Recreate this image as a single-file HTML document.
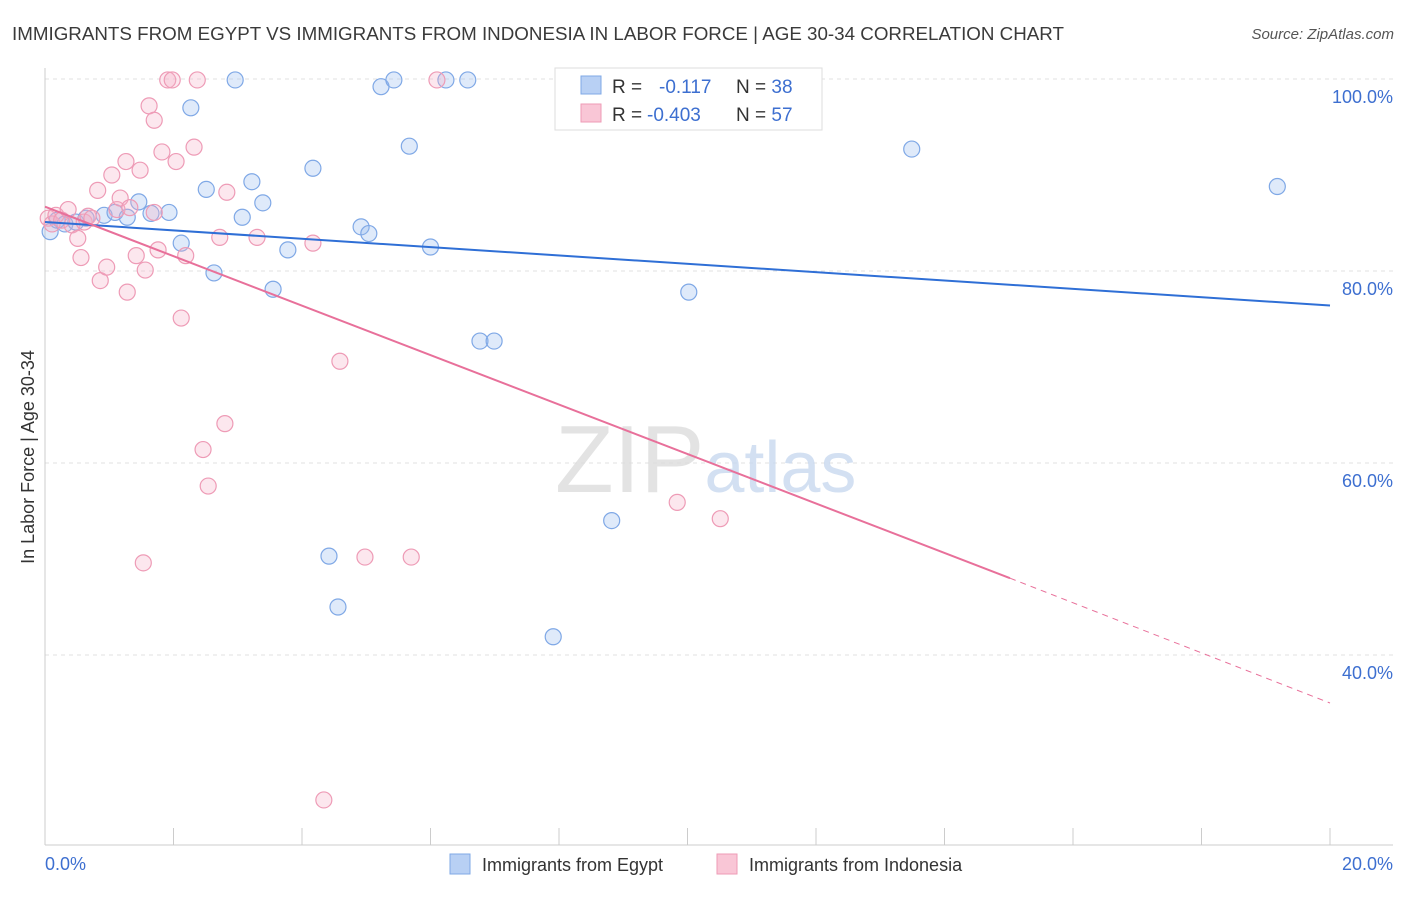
<!DOCTYPE html>
<html><head><meta charset="utf-8"><style>
body{margin:0;background:#fff;font-family:"Liberation Sans",sans-serif}
svg text{font-family:"Liberation Sans",sans-serif}
</style></head><body>
<svg id="chart" width="1406" height="892" xmlns="http://www.w3.org/2000/svg">
<text x="12" y="40" font-size="18" fill="#3a3a3a" textLength="1052" lengthAdjust="spacingAndGlyphs">IMMIGRANTS FROM EGYPT VS IMMIGRANTS FROM INDONESIA IN LABOR FORCE | AGE 30-34 CORRELATION CHART</text>
<text x="1394" y="39" font-size="15" fill="#555" font-style="italic" text-anchor="end">Source: ZipAtlas.com</text>
<g id="grid"></g>
<text x="555" y="492" font-size="96" fill="#ddd" font-family="Liberation Serif" opacity="0.8">ZIP<tspan fill="#c9d9ef" font-family="Liberation Sans" font-size="72">atlas</tspan></text>
<g id="marks"></g>
<text transform="translate(34,457) rotate(-90)" font-size="18" fill="#333" text-anchor="middle">In Labor Force | Age 30-34</text>
<text x="45" y="870" font-size="18" fill="#3d6fd0">0.0%</text>
<text x="1393" y="870" font-size="18" fill="#3d6fd0" text-anchor="end">20.0%</text>
<g>
<rect x="555" y="68" width="267" height="62" fill="#fff" stroke="#ddd"/>
<rect x="581" y="76" width="20" height="18" fill="#b8d0f4" stroke="#7fa8e6"/>
<rect x="581" y="104" width="20" height="18" fill="#f9c6d6" stroke="#ee9bb6"/>
<text x="612" y="93" font-size="19" fill="#333">R = <tspan fill="#3d6fd0" x="659">-0.117</tspan><tspan x="736" fill="#333">N = </tspan><tspan fill="#3d6fd0">38</tspan></text>
<text x="612" y="121" font-size="19" fill="#333">R = <tspan fill="#3d6fd0" x="647">-0.403</tspan><tspan x="736" fill="#333">N = </tspan><tspan fill="#3d6fd0">57</tspan></text>
</g>
<g><rect x="450" y="854" width="20" height="20" fill="#b8d0f4" stroke="#7fa8e6"/><text x="482" y="871" font-size="18" fill="#333">Immigrants from Egypt</text></g>
<g><rect x="717" y="854" width="20" height="20" fill="#f9c6d6" stroke="#ee9bb6"/><text x="749" y="871" font-size="18" fill="#333">Immigrants from Indonesia</text></g>
</svg>
<script>
const yTicks=[40,60,80,100];
const egyptX=[0.08,0.19,0.31,0.48,0.64,0.92,1.09,1.28,1.46,1.65,1.93,2.12,2.27,2.51,2.63,2.96,3.07,3.22,3.39,3.55,3.78,4.17,4.42,4.56,4.92,5.04,5.23,5.43,5.67,6.00,6.24,6.58,6.77,6.99,7.91,8.82,10.02,13.49,19.18];
const egyptY=[84.1,85.3,84.9,85.1,85.5,85.8,86.1,85.6,87.2,86.0,86.1,82.9,97.0,88.5,79.8,99.9,85.6,89.3,87.1,78.1,82.2,90.7,50.3,45.0,84.6,83.9,99.2,99.9,93.0,82.5,99.9,99.9,72.7,72.7,41.9,54.0,77.8,92.7,88.8];
const indoX=[0.05,0.11,0.17,0.26,0.36,0.42,0.51,0.56,0.61,0.67,0.73,0.82,0.86,0.96,1.04,1.12,1.17,1.26,1.28,1.32,1.42,1.48,1.56,1.53,1.62,1.70,1.70,1.76,1.82,1.91,1.98,2.04,2.12,2.19,2.32,2.37,2.46,2.54,2.72,2.80,2.83,3.30,4.17,4.34,4.59,4.98,5.70,6.10,9.84,10.51];
const indoY=[85.5,84.9,85.8,85.3,86.4,84.8,83.4,81.4,85.1,85.7,85.5,88.4,79.0,80.4,90.0,86.4,87.6,91.4,77.8,86.6,81.6,90.5,80.1,49.6,97.2,95.7,86.1,82.2,92.4,99.9,99.9,91.4,75.1,81.6,92.9,99.9,61.4,57.6,83.5,64.1,88.2,83.5,82.9,24.9,70.6,50.2,50.2,99.9,55.9,54.2];
const egyptTrend=[85.1,76.4];
const indoTrend=[86.7,48.0,35.0];
const indoSolidEnd=15.02;
const X=v=>45+v*64.25, Y=v=>79+(100-v)*9.6;
const NS='http://www.w3.org/2000/svg';
function mk(t,a,p){const e=document.createElementNS(NS,t);for(const k in a)e.setAttribute(k,a[k]);p.appendChild(e);return e;}
const g=document.getElementById('grid'),m=document.getElementById('marks');
yTicks.forEach(t=>{
 const l=mk('line',{x1:45,x2:1393,y1:Y(t),y2:Y(t),stroke:'#e2e2e2','stroke-dasharray':'4,4'},g);
 
 
 const tx=mk('text',{x:1393,y:Y(t)+24,'font-size':18,fill:'#3d6fd0','text-anchor':'end'},g);
 tx.textContent=t.toFixed(1)+'%';
 
 
});
const ax=mk('line',{x1:45,x2:45,y1:68,y2:845,stroke:'#ccc'},g);


const bx=mk('line',{x1:45,x2:1393,y1:845,y2:845,stroke:'#ccc'},g);


for(let i=1;i<=10;i++){const t=mk('line',{x1:X(i*2),x2:X(i*2),y1:828,y2:845,stroke:'#ccc'},g);
 
 }
egyptX.forEach((x,i)=>{const c=mk('circle',{cx:X(x),cy:Y(egyptY[i]),r:8,fill:'rgba(150,186,238,0.3)',stroke:'#7fa8e6','stroke-width':1.2},m);
 
 });
indoX.forEach((x,i)=>{const c=mk('circle',{cx:X(x),cy:Y(indoY[i]),r:8,fill:'rgba(246,176,200,0.3)',stroke:'#ee9bb6','stroke-width':1.2},m);
 
 });
const bl=mk('line',{x1:X(0),y1:Y(egyptTrend[0]),x2:X(20),y2:Y(egyptTrend[1]),stroke:'#2f6fd6','stroke-width':2},m);


const pl=mk('line',{x1:X(0),y1:Y(indoTrend[0]),x2:X(indoSolidEnd),y2:Y(indoTrend[1]),stroke:'#e8709a','stroke-width':2},m);


const pd=mk('line',{x1:X(indoSolidEnd),y1:Y(indoTrend[1]),x2:X(20),y2:Y(indoTrend[2]),stroke:'#e8709a','stroke-width':1,'stroke-dasharray':'6,5'},m);


</script>
</body></html>
